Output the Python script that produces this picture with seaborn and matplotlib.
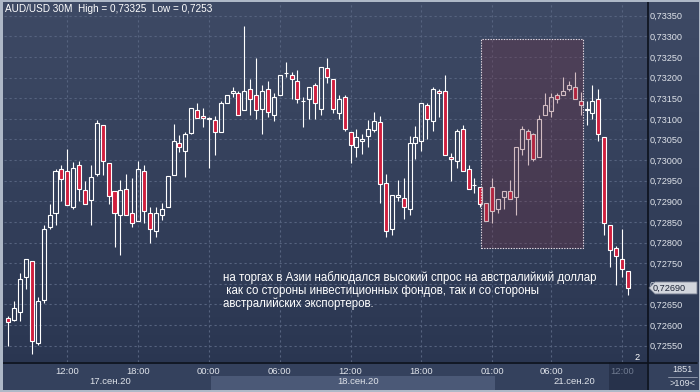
import numpy as np
import pandas as pd
import matplotlib
matplotlib.use("Agg")
import matplotlib.pyplot as plt
import matplotlib.transforms as mtransforms
from matplotlib.patches import Rectangle, Polygon
from matplotlib.lines import Line2D
from matplotlib.ticker import FuncFormatter
import seaborn as sns

# ---------------- data (AUD/USD, 30M candles) ----------------
opens = [0.72616, 0.72612, 0.72632, 0.72716, 0.72756, 0.72556, 0.72662, 0.72837, 0.72871, 0.72978,
         0.72973, 0.72886, 0.72987, 0.72927, 0.72903, 0.72966, 0.73086, 0.72992, 0.72926, 0.72866,
         0.72931, 0.72871, 0.72852, 0.72973, 0.72871, 0.72827, 0.72866, 0.72886, 0.72965, 0.73041,
         0.73021, 0.73066, 0.73121, 0.73106, 0.73101, 0.73097, 0.73067, 0.73138, 0.73162, 0.73162,
         0.73121, 0.73172, 0.73157, 0.73125, 0.73172, 0.73110, 0.73157, 0.73211, 0.73206, 0.73191,
         0.73143, 0.73147, 0.73181, 0.73125, 0.73222, 0.73196, 0.73115, 0.73152, 0.73068, 0.73031,
         0.73046, 0.73058, 0.73073, 0.73092, 0.72945, 0.72832, 0.72911, 0.72908, 0.72881, 0.73041,
         0.73046, 0.73133, 0.73095, 0.73167, 0.73167, 0.73007, 0.72997, 0.73076, 0.72978, 0.72940,
         0.72935, 0.72897, 0.72935, 0.72881, 0.72911, 0.72926, 0.72911, 0.73026, 0.73071, 0.73062,
         0.73007, 0.73110, 0.73120, 0.73157, 0.73157, 0.73172, 0.73176, 0.73142, 0.73125, 0.73115,
         0.73147, 0.73057, 0.72842, 0.72787, 0.72761, 0.72732]
highs = [0.72622, 0.72658, 0.72726, 0.72761, 0.72756, 0.72667, 0.72842, 0.72894, 0.72979, 0.72987,
         0.73026, 0.72995, 0.72997, 0.72949, 0.72987, 0.73097, 0.73086, 0.72992, 0.72926, 0.72952,
         0.72966, 0.72957, 0.72997, 0.72987, 0.72886, 0.72886, 0.72897, 0.72961, 0.73087, 0.73060,
         0.73068, 0.73126, 0.73138, 0.73126, 0.73104, 0.73107, 0.73142, 0.73157, 0.73178, 0.73167,
         0.73325, 0.73196, 0.73247, 0.73181, 0.73191, 0.73162, 0.73206, 0.73238, 0.73214, 0.73218,
         0.73152, 0.73176, 0.73186, 0.73226, 0.73247, 0.73196, 0.73157, 0.73157, 0.73068, 0.73076,
         0.73063, 0.73097, 0.73117, 0.73107, 0.72966, 0.72916, 0.72952, 0.72957, 0.73058, 0.73083,
         0.73138, 0.73138, 0.73178, 0.73172, 0.73206, 0.73016, 0.73076, 0.73086, 0.72987, 0.72957,
         0.72935, 0.72897, 0.72957, 0.72906, 0.72926, 0.72952, 0.73031, 0.73083, 0.73076, 0.73066,
         0.73110, 0.73162, 0.73163, 0.73162, 0.73201, 0.73191, 0.73214, 0.73166, 0.73143, 0.73181,
         0.73172, 0.73057, 0.72842, 0.72792, 0.72832, 0.72732]
lows = [0.72549, 0.72611, 0.72611, 0.72687, 0.72530, 0.72551, 0.72653, 0.72832, 0.72842, 0.72902,
        0.72892, 0.72881, 0.72902, 0.72894, 0.72842, 0.72961, 0.72965, 0.72894, 0.72790, 0.72771,
        0.72866, 0.72837, 0.72852, 0.72847, 0.72800, 0.72813, 0.72855, 0.72886, 0.72963, 0.73020,
        0.72960, 0.73062, 0.73101, 0.73081, 0.72982, 0.73012, 0.73067, 0.73138, 0.73152, 0.73110,
        0.73121, 0.73110, 0.73100, 0.73062, 0.73105, 0.73095, 0.73157, 0.73201, 0.73147, 0.73138,
        0.73081, 0.73100, 0.73100, 0.73110, 0.73186, 0.73115, 0.73100, 0.73071, 0.72992, 0.73007,
        0.73015, 0.73031, 0.73068, 0.72897, 0.72813, 0.72818, 0.72902, 0.72856, 0.72866, 0.73002,
        0.73021, 0.73052, 0.73071, 0.73105, 0.73012, 0.72950, 0.72982, 0.72973, 0.72931, 0.72921,
        0.72887, 0.72852, 0.72847, 0.72871, 0.72881, 0.72906, 0.72866, 0.73012, 0.72987, 0.72997,
        0.73007, 0.73110, 0.73105, 0.73138, 0.73157, 0.73167, 0.73147, 0.73109, 0.73086, 0.73100,
        0.73046, 0.72818, 0.72742, 0.72696, 0.72716, 0.72672]
closes = [0.72607, 0.72641, 0.72711, 0.72761, 0.72561, 0.72658, 0.72832, 0.72866, 0.72974, 0.72955,
          0.72892, 0.72982, 0.72931, 0.72894, 0.72960, 0.73091, 0.72997, 0.72913, 0.72871, 0.72927,
          0.72866, 0.72847, 0.72978, 0.72876, 0.72832, 0.72871, 0.72881, 0.72961, 0.73046, 0.73031,
          0.73063, 0.73126, 0.73101, 0.73101, 0.73100, 0.73067, 0.73138, 0.73157, 0.73167, 0.73110,
          0.73167, 0.73147, 0.73121, 0.73167, 0.73117, 0.73152, 0.73206, 0.73212, 0.73196, 0.73147,
          0.73142, 0.73176, 0.73138, 0.73226, 0.73201, 0.73125, 0.73147, 0.73075, 0.73036, 0.73057,
          0.73052, 0.73076, 0.73095, 0.72942, 0.72827, 0.72916, 0.72916, 0.72886, 0.73041, 0.73057,
          0.73138, 0.73100, 0.73172, 0.73162, 0.73012, 0.73002, 0.73071, 0.72973, 0.72931, 0.72939,
          0.72894, 0.72852, 0.72876, 0.72906, 0.72926, 0.72906, 0.73031, 0.73076, 0.73052, 0.73002,
          0.73100, 0.73133, 0.73152, 0.73147, 0.73167, 0.73181, 0.73147, 0.73133, 0.73121, 0.73142,
          0.73063, 0.72847, 0.72782, 0.72767, 0.72737, 0.72690]

price_ticks = [0.72550, 0.72600, 0.72650, 0.72700, 0.72750, 0.72800, 0.72850, 0.72900, 0.72950,
               0.73000, 0.73050, 0.73100, 0.73150, 0.73200, 0.73250, 0.73300, 0.73350]
time_ticks = [10, 22, 34, 46, 58, 70, 82, 92, 104]
time_labels = ["12:00", "18:00", "00:00", "06:00", "12:00", "18:00", "01:00", "06:00", "12:00"]
date_labels = ["17.сен.20", "18.сен.20", "21.сен.20"]
date_pos = [17.2, 59.3, 95.9]
highlight_x = [80.2, 97.35]
highlight_y = [0.72786, 0.73294]
note_lines = ["на торгах в Азии наблюдался высокий спрос на австралийкий доллар",
              " как со стороны инвестиционных фондов, так и со стороны",
              "австралийских экспортеров."]
symbol = "AUD/USD 30M"
bars_total, bars_visible = "1851", ">109<"

# ---------------- style ----------------
sns.set_theme(style="dark")
plt.rcParams['font.family'] = ['Liberation Sans', 'DejaVu Sans']

W, H = 700, 392
fig = plt.figure(figsize=(W / 100, H / 100), dpi=100)
fig.patch.set_facecolor('#2f3b57')


def fx(p):
    return p / W


def fy(p):
    return 1 - p / H


def fmt(v):
    return f"{v:.5f}".replace('.', ',')


# gradient background
bg = fig.add_axes([0, 0, 1, 1], zorder=-10)
bg.set_axis_off()
top_c = np.array([62, 74, 101]) / 255
bot_c = np.array([41, 53, 80]) / 255
t = np.linspace(0, 1, 256)[:, None]
grad = top_c[None, :] * (1 - t) + bot_c[None, :] * t
bg.imshow(grad[:, None, :], aspect='auto', extent=[0, 1, 0, 1], interpolation='bilinear')

# x-axis panel
fig.add_artist(Rectangle((0, 0), 1, fy(362), transform=fig.transFigure,
                         facecolor='#34415d', edgecolor='none', zorder=-5))

# main axes
px0, py0, px1, py1 = 4, 2, 647, 362
ax = fig.add_axes([fx(px0), fy(py1), fx(px1) - fx(px0), fy(py0) - fy(py1)])
ax.set_facecolor('none')
for s in ax.spines.values():
    s.set_visible(False)

df = pd.DataFrame({'open': opens, 'high': highs, 'low': lows, 'close': closes})
df['idx'] = np.arange(len(df))
df['up'] = df['close'] >= df['open']
df['body_lo'] = df[['open', 'close']].min(axis=1)
df['body_hi'] = df[['open', 'close']].max(axis=1)

ax.set_xlim(-0.729, 108.25)
ax.set_ylim(0.725105, 0.733832)

ax.set_yticks(price_ticks)
ax.yaxis.set_major_formatter(FuncFormatter(lambda v, p: fmt(v)))
ax.yaxis.tick_right()
ax.set_xticks(time_ticks)
ax.set_xticklabels(time_labels)
ax.grid(True, color='#56637f', linestyle=(0, (2, 2.5)), linewidth=0.8, zorder=0)
ax.tick_params(axis='y', length=0, pad=2.2, labelsize=6.6, labelcolor='#dfe3ea')
ax.tick_params(axis='x', length=0, pad=3.4, labelsize=6.8, labelcolor='#dfe3ea')
ax.get_xticklabels()[-1].set_color('#6f7a90')
ax.set_xlabel('')
ax.set_ylabel('')

# candles
ax.vlines(df['idx'], df['body_hi'], df['high'], color='white', lw=0.8, zorder=3)
ax.vlines(df['idx'], df['low'], df['body_lo'], color='white', lw=0.8, zorder=3)
fills = np.where(df['up'], 'none', '#d01f3e')
ax.bar(df['idx'], df['body_hi'] - df['body_lo'], bottom=df['body_lo'], width=0.68,
       color=fills, edgecolor='white', linewidth=0.8, zorder=4)

# highlighted zone
ax.add_patch(Rectangle((highlight_x[0], highlight_y[0]), highlight_x[1] - highlight_x[0],
                       highlight_y[1] - highlight_y[0],
                       facecolor=(115 / 255, 49 / 255, 66 / 255, 0.32), edgecolor='#e8dde6',
                       linestyle=(0, (1.2, 1.2)), linewidth=0.8, zorder=5))

# note text
for i, line in enumerate(note_lines):
    fig.text(fx(223), fy(278 + 12.8 * i), line, ha='left', va='center',
             fontsize=8.3, color='white', zorder=6)

# title
fig.text(fx(5), fy(9), f"{symbol}  High = {fmt(max(highs)).rstrip('0')}  Low = {fmt(min(lows)).rstrip('0')}",
         ha='left', va='center', fontsize=7.2, color='white')

# date band and labels
blend_x = mtransforms.blended_transform_factory(ax.transData, fig.transFigure)
fig.add_artist(Rectangle((34.3, fy(389.5)), 82.5 - 34.3, fy(376) - fy(389.5), transform=blend_x,
                         facecolor='#4b5977', edgecolor='none', zorder=-4))
fig.add_artist(Rectangle((101.8, fy(390)), 108.25 - 101.8, fy(362) - fy(390), transform=blend_x,
                         facecolor='#27324b', edgecolor='none', zorder=-4))
for lab, pos in zip(date_labels, date_pos):
    ax.text(pos, fy(382), lab, transform=blend_x, ha='center', va='center',
            fontsize=6.8, color='#dfe3ea', clip_on=False)

# separators
fig.add_artist(Line2D([fx(647.5), fx(647.5)], [fy(390), fy(2)], transform=fig.transFigure,
                      color='#0c111c', lw=1.2, zorder=8))
fig.add_artist(Line2D([fx(3), fx(697)], [fy(362.5), fy(362.5)], transform=fig.transFigure,
                      color='#0c111c', lw=1.2, zorder=8))

# right panel info
fig.text(fx(683), fy(370), bars_total, ha='center', va='center', fontsize=6.6, color='#dfe3ea')
fig.add_artist(Line2D([fx(668), fx(697)], [fy(377), fy(377)], transform=fig.transFigure,
                      color='#9aa3b5', lw=0.6))
fig.text(fx(683), fy(384), bars_visible, ha='center', va='center', fontsize=6.6, color='#dfe3ea')
fig.text(fx(637), fy(357), "2", ha='center', va='center', fontsize=6.6, color='white')

# current price marker
blend_y = mtransforms.blended_transform_factory(fig.transFigure, ax.transData)
last = closes[-1]
span = ax.get_ylim()[1] - ax.get_ylim()[0]
hh = 6 / (py1 - py0) * span
poly = Polygon([(fx(649), last), (fx(655), last + hh), (fx(697), last + hh),
                (fx(697), last - hh), (fx(655), last - hh)], closed=True,
               transform=blend_y, facecolor='#d3d6dd', edgecolor='#7d8496', lw=0.6, zorder=10)
fig.add_artist(poly)
fig.text(fx(653), last, fmt(last), transform=blend_y, ha='left', va='center',
         fontsize=6.6, color='#1d2436', zorder=11)

# outer frame
frame_c = '#aeb8c7'
for (x, y, w, h) in [(0, 0, 3, H), (0, 0, W, 2), (0, H - 2, W, 2), (W - 1, 0, 1, H)]:
    fig.add_artist(Rectangle((fx(x), fy(y + h)), w / W, h / H, transform=fig.transFigure,
                             facecolor=frame_c, edgecolor='none', zorder=20))

fig.savefig("out.png", dpi=100)
